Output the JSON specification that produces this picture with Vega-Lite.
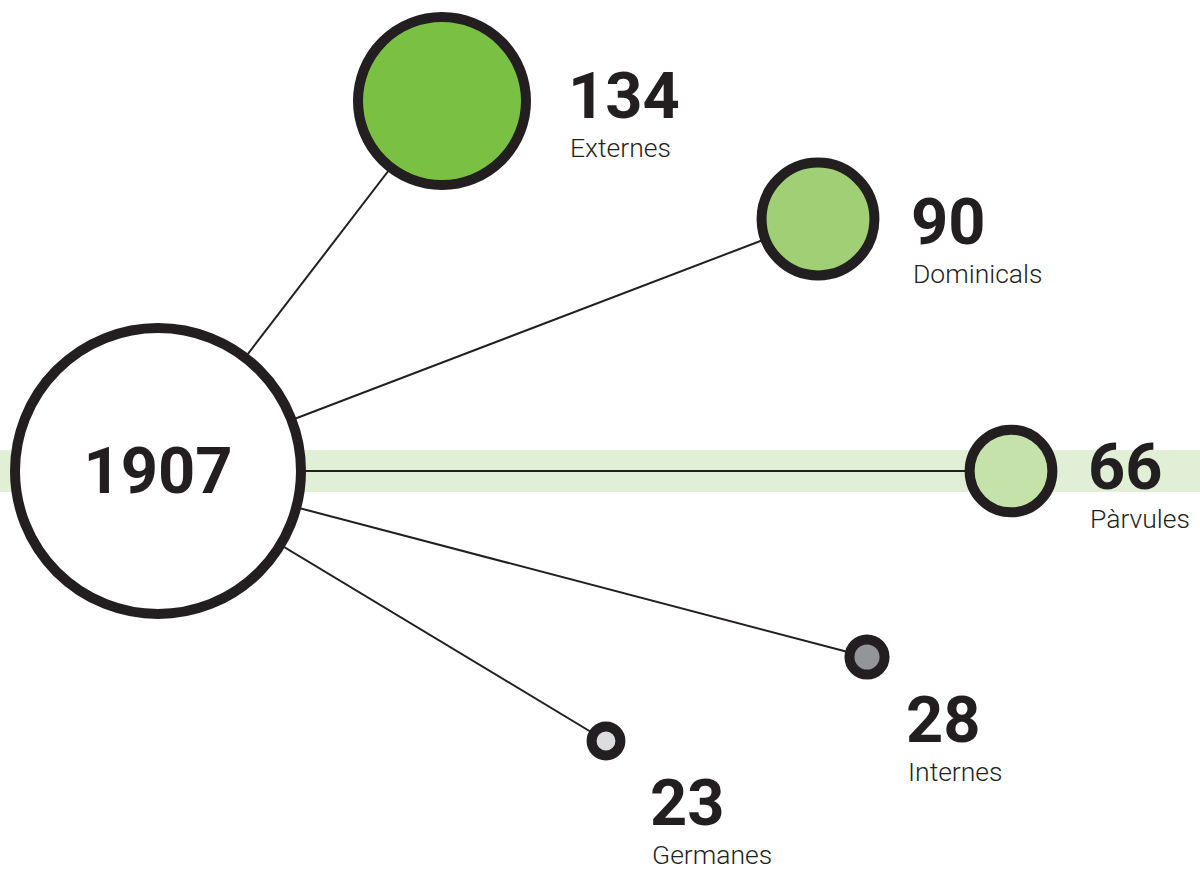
{
  "$schema": "https://vega.github.io/schema/vega-lite/v6.json",
  "width": 1200,
  "height": 869,
  "autosize": "none",
  "padding": 0,
  "background": "white",
  "config": {"view": {"stroke": null}},
  "datasets": {
    "nodes": [
      {"name": "Externes", "value": 134, "x": 284, "y": 370, "lx": 412, "ly": 353},
      {"name": "Dominicals", "value": 90, "x": 660, "y": 252, "lx": 755, "ly": 227},
      {"name": "Pàrvules", "value": 66, "x": 853, "y": 0, "lx": 932, "ly": -18},
      {"name": "Internes", "value": 28, "x": 709, "y": -186, "lx": 750, "ly": -271},
      {"name": "Germanes", "value": 23, "x": 448, "y": -270, "lx": 494, "ly": -354}
    ],
    "hub": [{"label": "1907", "x": 0, "y": 0}]
  },
  "layer": [
    {
      "data": {"name": "hub"},
      "mark": {"type": "rect", "color": "#e0efd5"},
      "encoding": {
        "x": {"datum": -158, "type": "quantitative", "scale": {"domain": [-158, 1042], "nice": false, "zero": false}, "axis": null},
        "x2": {"datum": 1042},
        "y": {"datum": 21, "type": "quantitative", "scale": {"domain": [-398, 471], "nice": false, "zero": false}, "axis": null},
        "y2": {"datum": -21}
      }
    },
    {
      "data": {"name": "nodes"},
      "mark": {"type": "rule", "color": "#231f20", "strokeWidth": 2},
      "encoding": {
        "x": {"field": "x", "type": "quantitative"},
        "y": {"field": "y", "type": "quantitative"},
        "x2": {"datum": 0},
        "y2": {"datum": 0}
      }
    },
    {
      "data": {"name": "hub"},
      "mark": {"type": "circle", "size": 81796, "fill": "white", "stroke": "#231f20", "strokeWidth": 10, "opacity": 1, "fillOpacity": 1},
      "encoding": {
        "x": {"field": "x", "type": "quantitative"},
        "y": {"field": "y", "type": "quantitative"}
      }
    },
    {
      "data": {"name": "nodes"},
      "mark": {"type": "circle", "stroke": "#231f20", "strokeWidth": 10, "opacity": 1, "fillOpacity": 1},
      "encoding": {
        "x": {"field": "x", "type": "quantitative"},
        "y": {"field": "y", "type": "quantitative"},
        "size": {"field": "value", "type": "quantitative", "scale": {"type": "pow", "exponent": 2, "domain": [0, 134], "range": [0, 28224]}, "legend": null},
        "fill": {"field": "name", "type": "nominal", "scale": {"domain": ["Externes", "Dominicals", "Pàrvules", "Internes", "Germanes"], "range": ["#7ac143", "#a1cf75", "#c6e2ab", "#939598", "#dcddde"]}, "legend": null}
      }
    },
    {
      "data": {"name": "hub"},
      "mark": {"type": "text", "font": "Roboto", "fontWeight": "bold", "fontSize": 65, "color": "#231f20", "align": "center", "baseline": "alphabetic", "dy": 22},
      "encoding": {
        "x": {"field": "x", "type": "quantitative"},
        "y": {"field": "y", "type": "quantitative"},
        "text": {"field": "label"}
      }
    },
    {
      "data": {"name": "nodes"},
      "mark": {"type": "text", "font": "Roboto", "fontWeight": "bold", "fontSize": 65, "color": "#231f20", "align": "left", "baseline": "alphabetic", "dx": -2},
      "encoding": {
        "x": {"field": "lx", "type": "quantitative"},
        "y": {"field": "ly", "type": "quantitative"},
        "text": {"field": "value", "type": "quantitative"}
      }
    },
    {
      "data": {"name": "nodes"},
      "mark": {"type": "text", "font": "Roboto", "fontWeight": 300, "fontSize": 26.5, "color": "#231f20", "align": "left", "baseline": "alphabetic", "dx": 0, "dy": 39},
      "encoding": {
        "x": {"field": "lx", "type": "quantitative"},
        "y": {"field": "ly", "type": "quantitative"},
        "text": {"field": "name"}
      }
    }
  ]
}
